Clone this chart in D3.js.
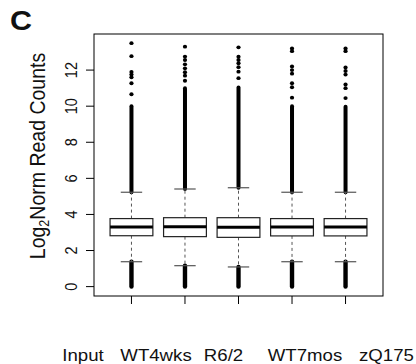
<!DOCTYPE html>
<html>
<head>
<meta charset="utf-8">
<script src="https://d3js.org/d3.v7.min.js"></script>
<style>
  body { margin: 0; background: #fff; }
  text { font-family: "Liberation Sans", Arial, Helvetica, sans-serif; fill: #111; }
</style>
</head>
<body>
<svg id="chart"></svg>
<script>
// groups and box statistics (log2 normalized read counts)
var groups = ["Input", "WT4wks", "R6/2", "WT7mos", "zQ175"];
var q1 = [2.82, 2.77, 2.73, 2.81, 2.81];
var medians = [3.30, 3.32, 3.29, 3.30, 3.30];
var q3 = [3.77, 3.82, 3.82, 3.77, 3.77];
var whiskerLow = [1.38, 1.16, 1.09, 1.38, 1.38];
var whiskerHigh = [5.23, 5.41, 5.48, 5.23, 5.23];

// outliers: dense runs that merge into a solid bar, plus the separate points above them
var denseHighTop = [10.0, 11.0, 11.03, 10.0, 9.97];
var denseLowBottom = [0, 0, 0, 0, 0];
var sparseHigh = [
  [13.49, 12.77, 11.9, 11.75, 11.6, 11.27, 10.66],
  [13.3, 12.75, 12.56, 12.32, 12.1, 11.88, 11.69, 11.41],
  [13.26, 12.74, 12.56, 12.38, 12.16, 11.91, 11.55],
  [13.2, 13.05, 12.2, 12.0, 11.8, 11.27, 11.05, 10.47],
  [13.2, 13.05, 12.15, 11.95, 11.75, 11.2, 11.0, 10.45]
];
var yTicks = [0, 2, 4, 6, 8, 10, 12];

var width = 416, height = 364;
var frame = {left: 94, right: 383, top: 34, bottom: 296};
var sx = 1.13;  // the figure is slightly stretched sideways
var labelX = [83, 156, 223.5, 305, 386.5];

var svg = d3.select("#chart").attr("width", width).attr("height", height);
svg.append("rect").attr("width", width).attr("height", height).attr("fill", "#fff");

var x = d3.scaleLinear()
    .domain([0.3, groups.length + 0.7])
    .range([frame.left, frame.right]);

var y = d3.scaleLinear()
    .domain([-0.52, 14.0])
    .range([frame.bottom, frame.top]);

var boxHalf = (x(1.4) - x(1)) ;
var stapleHalf = (x(1.2) - x(1));

var g = svg.selectAll(".group")
  .data(groups)
  .enter()
  .append("g")
  .attr("class", "group");

// outliers first, so whiskers and staples sit on top
g.append("line")
  .attr("x1", function (d, i) {return x(i + 1);})
  .attr("x2", function (d, i) {return x(i + 1);})
  .attr("y1", function (d, i) {return y(whiskerHigh[i]);})
  .attr("y2", function (d, i) {return y(denseHighTop[i]);})
  .attr("stroke", "#000")
  .attr("stroke-width", 4)
  .attr("stroke-linecap", "round");

g.append("line")
  .attr("x1", function (d, i) {return x(i + 1);})
  .attr("x2", function (d, i) {return x(i + 1);})
  .attr("y1", function (d, i) {return y(whiskerLow[i]);})
  .attr("y2", function (d, i) {return y(denseLowBottom[i]);})
  .attr("stroke", "#000")
  .attr("stroke-width", 4.4)
  .attr("stroke-linecap", "round");

g.each(function (d, i) {
  d3.select(this).selectAll("ellipse")
    .data(sparseHigh[i])
    .enter()
    .append("ellipse")
    .attr("cx", x(i + 1))
    .attr("cy", function (v) {return y(v);})
    .attr("rx", 2.1)
    .attr("ry", 1.9)
    .attr("fill", "#000");
});

// dashed whiskers
g.append("line")
  .attr("x1", function (d, i) {return x(i + 1);})
  .attr("x2", function (d, i) {return x(i + 1);})
  .attr("y1", function (d, i) {return y(q3[i]);})
  .attr("y2", function (d, i) {return y(whiskerHigh[i]);})
  .attr("stroke", "#555")
  .attr("stroke-dasharray", "3,3");

g.append("line")
  .attr("x1", function (d, i) {return x(i + 1);})
  .attr("x2", function (d, i) {return x(i + 1);})
  .attr("y1", function (d, i) {return y(q1[i]);})
  .attr("y2", function (d, i) {return y(whiskerLow[i]);})
  .attr("stroke", "#555")
  .attr("stroke-dasharray", "3,3");

// staples
[whiskerHigh, whiskerLow].forEach(function (arr) {
  g.append("line")
    .attr("x1", function (d, i) {return x(i + 1) - stapleHalf;})
    .attr("x2", function (d, i) {return x(i + 1) + stapleHalf;})
    .attr("y1", function (d, i) {return y(arr[i]);})
    .attr("y2", function (d, i) {return y(arr[i]);})
    .attr("stroke", "#555")
    .attr("stroke-width", 1.2);
});

// boxes
g.append("rect")
  .attr("x", function (d, i) {return x(i + 1) - boxHalf;})
  .attr("y", function (d, i) {return y(q3[i]);})
  .attr("width", boxHalf * 2)
  .attr("height", function (d, i) {return y(q1[i]) - y(q3[i]);})
  .attr("fill", "#fff")
  .attr("stroke", "#222")
  .attr("stroke-width", 1.2);

g.append("line")
  .attr("x1", function (d, i) {return x(i + 1) - boxHalf;})
  .attr("x2", function (d, i) {return x(i + 1) + boxHalf;})
  .attr("y1", function (d, i) {return y(medians[i]);})
  .attr("y2", function (d, i) {return y(medians[i]);})
  .attr("stroke", "#000")
  .attr("stroke-width", 3);

// frame
svg.append("rect")
  .attr("x", frame.left)
  .attr("y", frame.top)
  .attr("width", frame.right - frame.left)
  .attr("height", frame.bottom - frame.top)
  .attr("fill", "none")
  .attr("stroke", "#000")
  .attr("stroke-width", 1);

// y axis: ticks and rotated labels
svg.selectAll(".ytick")
  .data(yTicks)
  .enter()
  .append("line")
  .attr("class", "ytick")
  .attr("x1", frame.left - 8)
  .attr("x2", frame.left)
  .attr("y1", function (d) {return y(d);})
  .attr("y2", function (d) {return y(d);})
  .attr("stroke", "#000");

svg.selectAll(".ylab")
  .data(yTicks)
  .enter()
  .append("text")
  .attr("class", "ylab")
  .attr("transform", function (d) {return "translate(77," + y(d) + ") scale(" + sx + ",1) rotate(-90)";})
  .attr("text-anchor", "middle")
  .style("font-size", "14.5px")
  .text(function (d) {return d;});

var ytitle = svg.append("text")
  .attr("transform", "translate(45,156) scale(" + sx + ",1) rotate(-90)")
  .attr("text-anchor", "middle")
  .style("font-size", "19.5px");
ytitle.append("tspan").text("Log");
ytitle.append("tspan").attr("baseline-shift", "-30%").style("font-size", "12.5px").text("2");
ytitle.append("tspan").text("Norm Read Counts");

// x axis: ticks under each box, labels set apart below
svg.selectAll(".xtick")
  .data(groups)
  .enter()
  .append("line")
  .attr("class", "xtick")
  .attr("x1", function (d, i) {return x(i + 1);})
  .attr("x2", function (d, i) {return x(i + 1);})
  .attr("y1", frame.bottom)
  .attr("y2", frame.bottom + 8)
  .attr("stroke", "#000");

svg.selectAll(".xlab")
  .data(groups)
  .enter()
  .append("text")
  .attr("class", "xlab")
  .attr("transform", function (d, i) {return "translate(" + labelX[i] + ",361) scale(" + sx + ",1)";})
  .attr("text-anchor", "middle")
  .style("font-size", "16.5px")
  .text(function (d) {return d;});

// panel letter
svg.append("text")
  .attr("transform", "translate(10,30) scale(" + sx + ",1)")
  .style("font-size", "27px")
  .style("font-weight", "bold")
  .text("C");
</script>
</body>
</html>
